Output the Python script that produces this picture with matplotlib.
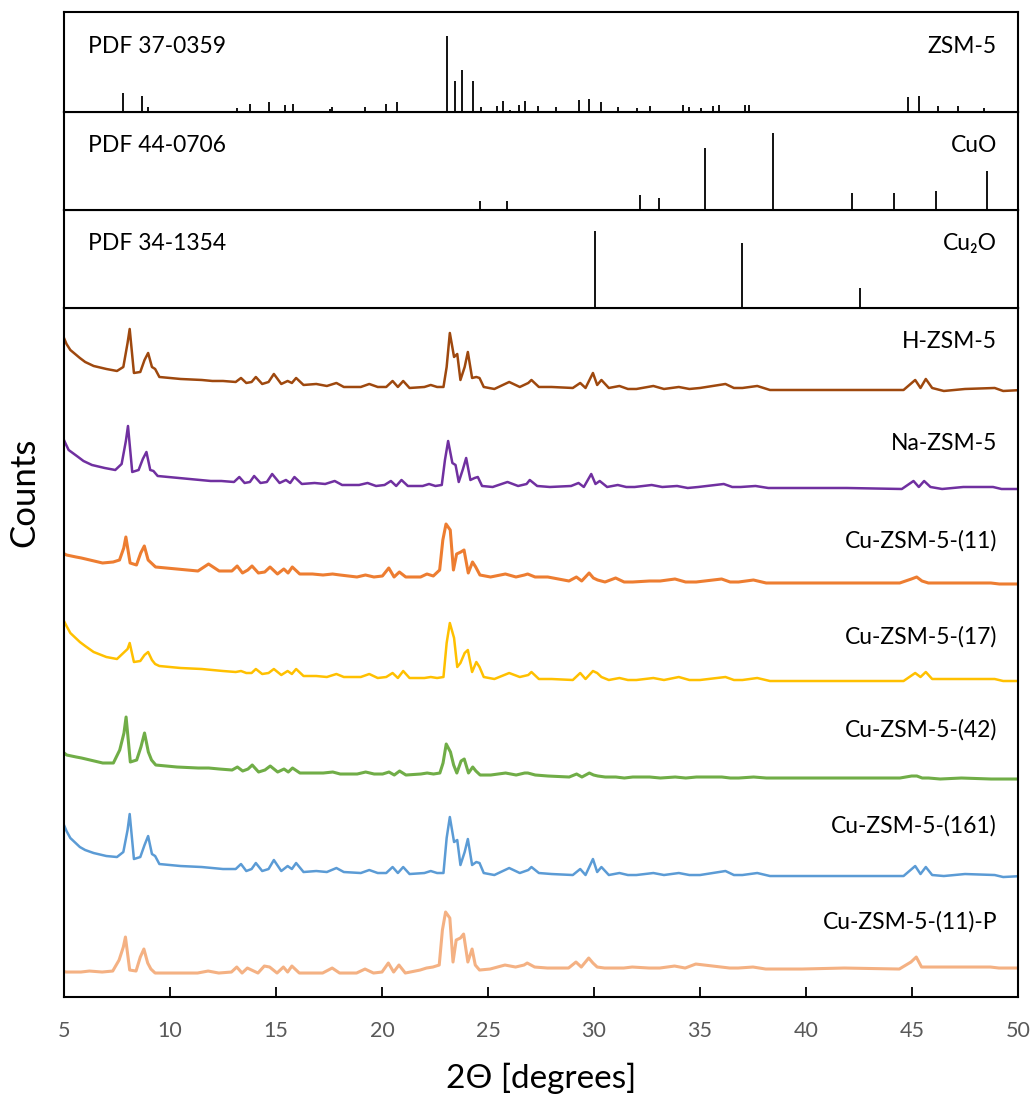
import numpy as np
import matplotlib
matplotlib.use('Agg')
import matplotlib.pyplot as plt

plt.rcParams['font.family'] = ['Lato', 'DejaVu Sans']

# Reference patterns (stick positions in 2theta, relative intensity)
zsm5_pos = [7.80, 8.69, 8.97, 9.73, 11.80, 13.14, 13.77, 14.68, 15.42, 15.78,
            16.36, 17.22, 17.55, 17.65, 19.18, 20.20, 20.73, 21.67, 23.06, 23.45,
            23.77, 24.29, 24.65, 25.43, 25.70, 26.05, 26.46, 26.76, 27.35, 27.90,
            28.20, 29.28, 29.75, 30.34, 31.12, 32.03, 32.66, 34.22, 34.47, 35.05,
            35.60, 35.91, 37.14, 37.30, 44.79, 45.34, 46.23, 47.19, 48.40]
zsm5_int = [0.19, 0.16, 0.047, 0.015, 0.015, 0.04, 0.083, 0.10, 0.073, 0.083,
            0.015, 0.015, 0.03, 0.05, 0.047, 0.083, 0.10, 0.015, 0.757, 0.307,
            0.423, 0.307, 0.047, 0.057, 0.107, 0.02, 0.073, 0.107, 0.057, 0.015,
            0.047, 0.117, 0.13, 0.10, 0.047, 0.04, 0.063, 0.067, 0.047, 0.04,
            0.057, 0.073, 0.067, 0.067, 0.15, 0.163, 0.057, 0.057, 0.04]

cuo_pos = [24.62, 25.90, 32.19, 33.05, 35.22, 38.43, 42.17, 44.16, 46.12, 48.53]
cuo_int = [0.096, 0.096, 0.148, 0.121, 0.628, 0.783, 0.172, 0.172, 0.19, 0.403]

cu2o_pos = [30.04, 36.98, 42.57]
cu2o_int = [0.786, 0.662, 0.207]

ref_codes = ['PDF 37-0359', 'PDF 44-0706', 'PDF 34-1354']
ref_names = ['ZSM-5', 'CuO', 'Cu\u2082O']

# Measured patterns, sampled at common 2theta points (stacked counts, arb. units)
two_theta = [5.0, 5.12, 5.3, 5.75, 6.0, 6.4, 7.0, 7.5, 7.8, 8.0, 8.1, 8.3,
             8.6, 8.8, 8.97, 9.15, 9.3, 9.5, 10.5, 11.5, 12.0, 12.5,
             13.1, 13.35, 13.6, 13.85, 14.05, 14.35, 14.65, 14.9, 15.25, 15.55,
             15.75, 15.95, 16.3, 16.9, 17.4, 17.85, 18.2, 19.0, 19.4, 19.8,
             20.2, 20.5, 20.75, 21.0, 21.3, 22.0, 22.3, 22.6, 22.9, 23.05,
             23.2, 23.4, 23.55, 23.7, 23.9, 24.05, 24.25, 24.45, 24.6, 24.8,
             25.3, 26.0, 26.5, 26.9, 27.05, 27.4, 28.0, 29.0, 29.35, 29.6,
             29.95, 30.15, 30.35, 30.7, 31.2, 31.6, 32.0, 32.8, 33.3, 34.0,
             34.5, 35.0, 36.2, 36.6, 37.0, 37.7, 38.3, 40.0, 42.0, 44.6,
             45.15, 45.4, 45.65, 45.95, 46.5, 47.5, 48.9, 49.3, 50.2]

h_zsm5 = [659, 653, 647, 639, 635, 631, 628, 626, 630, 654, 668, 624,
          625, 637, 644, 630, 628, 620, 618, 617, 616, 616,
          615, 619, 614, 615, 620, 613, 615, 623, 613, 616,
          614, 619, 612, 613, 611, 614, 610, 610, 613, 610,
          610, 616, 610, 616, 609, 610, 612, 610, 610, 630,
          664, 640, 643, 617, 630, 645, 619, 620, 619, 610,
          608, 615, 610, 614, 617, 610, 610, 609, 614, 609,
          624, 612, 617, 609, 611, 608, 608, 611, 608, 610,
          608, 609, 613, 609, 609, 611, 607, 607, 607, 607,
          617, 609, 618, 609, 606, 608, 609, 606, 607]

na_zsm5 = [561, 555, 547, 540, 536, 532, 529, 527, 533, 556, 571, 525,
           527, 538, 545, 527, 526, 521, 519, 517, 516, 516,
           515, 520, 514, 515, 521, 514, 515, 523, 514, 517,
           514, 520, 513, 514, 513, 516, 512, 512, 514, 511,
           512, 516, 511, 517, 511, 511, 513, 511, 512, 537,
           556, 534, 532, 515, 528, 539, 517, 519, 520, 511,
           510, 515, 511, 513, 517, 511, 510, 511, 514, 510,
           523, 513, 516, 510, 512, 510, 510, 512, 510, 511,
           509, 510, 513, 510, 510, 511, 509, 509, 509, 508,
           516, 510, 516, 510, 508, 510, 510, 508, 508]

cu_11 = [447, 444, 442, 440, 439, 437, 434, 435, 437, 449, 460, 434,
         432, 444, 451, 437, 434, 430, 428, 426, 433, 426,
         426, 431, 424, 427, 431, 424, 425, 430, 423, 428,
         424, 430, 423, 423, 422, 423, 422, 420, 422, 420,
         421, 429, 420, 425, 420, 420, 423, 421, 427, 457,
         473, 467, 427, 443, 445, 447, 424, 435, 430, 422,
         420, 423, 420, 422, 423, 420, 420, 416, 420, 416,
         424, 419, 417, 415, 419, 415, 415, 416, 416, 418,
         415, 415, 418, 415, 415, 417, 414, 414, 414, 414,
         418, 420, 416, 414, 414, 414, 414, 413, 413]

cu_17 = [376, 371, 364, 355, 351, 345, 340, 338, 344, 348, 354, 335,
         336, 342, 345, 337, 333, 331, 329, 328, 327, 326,
         325, 326, 324, 324, 328, 323, 324, 328, 322, 326,
         323, 328, 321, 321, 320, 323, 320, 320, 323, 319,
         320, 324, 319, 326, 319, 319, 320, 319, 320, 354,
         374, 359, 330, 334, 344, 347, 325, 335, 330, 320,
         318, 324, 320, 322, 325, 318, 318, 317, 324, 318,
         326, 324, 320, 317, 319, 317, 317, 319, 317, 320,
         317, 317, 320, 317, 317, 319, 316, 316, 316, 316,
         324, 320, 325, 318, 318, 318, 318, 316, 316]

cu_42 = [247, 245, 242, 240, 239, 237, 234, 234, 247, 264, 280, 235,
         237, 250, 264, 245, 237, 232, 230, 229, 229, 228,
         227, 230, 226, 228, 232, 225, 227, 231, 225, 228,
         225, 229, 224, 224, 224, 225, 223, 223, 225, 223,
         223, 225, 222, 226, 222, 223, 224, 223, 224, 234,
         253, 245, 232, 224, 236, 238, 224, 230, 226, 222,
         222, 224, 222, 224, 224, 222, 221, 220, 223, 220,
         224, 222, 221, 220, 220, 219, 220, 220, 219, 220,
         219, 220, 220, 219, 219, 220, 219, 219, 219, 219,
         221, 221, 219, 219, 218, 219, 218, 218, 218]

cu_161 = [172, 166, 159, 150, 147, 144, 141, 140, 145, 167, 183, 138,
          140, 152, 161, 143, 141, 133, 131, 130, 129, 128,
          128, 133, 126, 128, 134, 126, 128, 137, 126, 131,
          128, 134, 125, 126, 125, 129, 125, 124, 127, 124,
          124, 130, 124, 130, 123, 124, 126, 124, 124, 159,
          180, 155, 157, 132, 145, 158, 132, 135, 134, 124,
          122, 129, 124, 127, 130, 124, 123, 122, 128, 122,
          138, 125, 130, 122, 124, 122, 122, 124, 122, 124,
          122, 122, 126, 122, 122, 124, 121, 121, 121, 121,
          131, 123, 130, 122, 121, 123, 122, 120, 121]

cu_11_p = [26, 26, 25, 25, 25, 26, 25, 26, 37, 50, 60, 27,
           26, 40, 48, 34, 28, 24, 24, 24, 26, 24,
           25, 30, 24, 29, 27, 24, 31, 30, 24, 30,
           25, 31, 24, 24, 24, 29, 24, 24, 28, 24,
           25, 34, 25, 32, 24, 27, 29, 30, 32, 67,
           85, 79, 35, 57, 59, 63, 35, 48, 32, 27,
           28, 32, 30, 32, 34, 30, 29, 29, 35, 30,
           39, 34, 30, 29, 29, 29, 30, 29, 29, 31,
           29, 33, 30, 29, 29, 30, 28, 28, 29, 28,
           35, 40, 30, 30, 30, 30, 30, 29, 29]

samples = ['H-ZSM-5', 'Na-ZSM-5', 'Cu-ZSM-5-(11)', 'Cu-ZSM-5-(17)',
           'Cu-ZSM-5-(42)', 'Cu-ZSM-5-(161)', 'Cu-ZSM-5-(11)-P']
patterns = [h_zsm5, na_zsm5, cu_11, cu_17, cu_42, cu_161, cu_11_p]
peak_shift = [0.0, -0.08, -0.18, 0.0, -0.17, 0.0, -0.2]   # sample displacement
label_y = [655, 553, 456, 360, 267, 171, 75]
colors = ['#9E480E', '#7030A0', '#ED7D31', '#FFC000', '#70AD47', '#5B9BD5', '#F4B183']
widths = [1.8, 1.8, 2.2, 1.8, 2.2, 1.8, 2.2]

fig = plt.figure(figsize=(10.35, 10.96), dpi=100)

left, width = 0.0618, 0.9218
ax_main = fig.add_axes([left, 0.0903, width, 0.6287])
ax_cu2o = fig.add_axes([left, 0.7190, width, 0.0894])
ax_cuo = fig.add_axes([left, 0.8084, width, 0.0894])
ax_zsm = fig.add_axes([left, 0.8978, width, 0.0912])

# Paneles de referencia
ref_axes = [ax_zsm, ax_cuo, ax_cu2o]
ref_data = [(zsm5_pos, zsm5_int), (cuo_pos, cuo_int), (cu2o_pos, cu2o_int)]
for ax, (pos, inten), code, name in zip(ref_axes, ref_data, ref_codes, ref_names):
    ax.vlines(pos, 0, inten, color='black', lw=1.3)
    ax.set_xlim(5, 50)
    ax.set_ylim(0, 1)
    ax.set_xticks([])
    ax.set_yticks([])
    for s in ax.spines.values():
        s.set_linewidth(1.5)
    ax.text(0.025, 0.66, code, transform=ax.transAxes, fontsize=16.5, va='center', ha='left')
    ax.text(0.978, 0.66, name, transform=ax.transAxes, fontsize=16.5, va='center', ha='right')

# Difractogramas
x = np.array(two_theta)
for pat, shift, name, ly, c, lw in zip(patterns, peak_shift, samples, label_y, colors, widths):
    ax_main.plot(x + shift, pat, color=c, lw=lw, solid_joinstyle='round')
    ax_main.text(0.978, ly, name, transform=ax_main.get_yaxis_transform(),
                 fontsize=16.5, ha='right', va='center')

ax_main.set_xlim(5, 50)
ax_main.set_ylim(0, 689)
ax_main.set_yticks([])
ax_main.set_xticks(range(5, 51, 5))
ax_main.tick_params(axis='x', direction='in', length=7, width=1.3,
                    labelsize=15.5, labelcolor='#595959', pad=17)
for s in ax_main.spines.values():
    s.set_linewidth(1.5)

fig.text(0.523, 0.016, '2\u0398 [degrees]', fontsize=24, ha='center', va='center')
fig.text(0.024, 0.551, 'Counts', fontsize=25, rotation=90, ha='center', va='center')

fig.savefig('out.png', dpi=100)
